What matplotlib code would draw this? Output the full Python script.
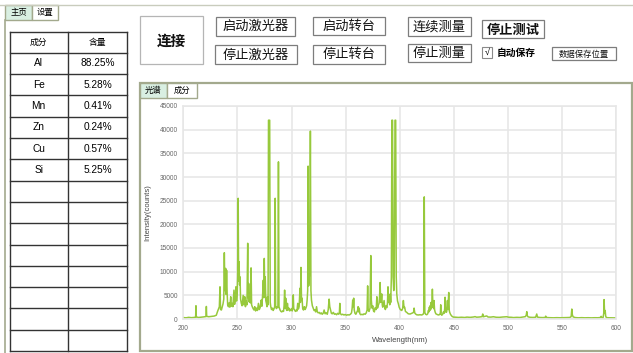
import matplotlib
matplotlib.use('Agg')
import matplotlib.pyplot as plt
from matplotlib.patches import Rectangle

CJK = ['Noto Sans CJK SC', 'DejaVu Sans']
LAT = ['Liberation Sans', 'DejaVu Sans']

# composition table
components = ['Al', 'Fe', 'Mn', 'Zn', 'Cu', 'Si']
contents = ['88.25%', '5.28%', '0.41%', '0.24%', '0.57%', '5.25%']
n_empty_rows = 8

x_ticks = [200, 250, 300, 350, 400, 450, 500, 550, 600]
y_ticks = [0, 5000, 10000, 15000, 20000, 25000, 30000, 35000, 40000, 45000]

# spectrum: (wavelength nm, counts)
seg_200_232 = [
    (200.0, 300), (202.5, 250), (205.0, 350), (207.5, 280), (210.0, 330),
    (211.4, 420), (211.7, 2800), (212.0, 450), (214.0, 320), (216.5, 380),
    (219.0, 450), (221.0, 520), (221.3, 2650), (221.6, 560), (223.5, 480),
    (226.0, 560), (228.5, 620), (230.5, 800), (231.5, 1500), (232.5, 2100),
]
seg_233_300 = [
    (233.3, 2600), (233.9, 6800), (234.4, 2000), (235.2, 1900), (236.0, 2600),
    (236.7, 3200), (237.4, 4200), (237.9, 14000), (238.4, 6000), (239.1, 10700),
    (239.5, 5200), (240.0, 10300), (240.5, 5400), (241.0, 3000), (241.7, 2600),
    (242.3, 3400), (243.0, 2500), (243.8, 4700), (244.4, 2700), (245.2, 3300),
    (245.8, 2600), (246.8, 6100), (247.4, 3100), (248.0, 4300), (248.6, 6800),
    (249.2, 3800), (249.8, 5200), (250.2, 9000), (250.7, 25500), (251.1, 8000),
    (251.5, 12100), (252.0, 7200), (252.4, 8900), (252.9, 4200), (253.6, 3300),
    (254.3, 2800), (255.3, 5000), (255.9, 3000), (256.8, 4700), (257.4, 2600),
    (258.0, 3800), (258.8, 3000), (259.5, 16000), (259.9, 4500), (260.4, 7500),
    (260.9, 3600), (261.5, 5400), (262.0, 3400), (262.6, 10800), (263.1, 3000),
    (263.7, 2600), (264.5, 2200), (265.3, 1900), (266.0, 2600), (266.8, 1700),
    (267.6, 2300), (268.5, 1800), (269.4, 3300), (270.2, 2000), (271.0, 2400),
    (272.0, 4000), (272.6, 2700), (273.3, 5200), (273.9, 8200), (274.4, 4500),
    (274.8, 12800), (275.2, 6000), (275.7, 8900), (276.2, 3900), (276.8, 3300),
    (277.3, 2600), (277.8, 4700), (278.3, 3000), (278.7, 42000), (279.3, 42000),
    (279.8, 42000), (280.3, 3500), (280.8, 2600), (281.5, 2000), (282.2, 2300),
    (283.0, 1800), (283.7, 2100), (284.4, 2600), (284.9, 25500), (285.3, 2800),
    (286.0, 2200), (286.7, 2600), (287.4, 2400), (287.9, 33200), (288.4, 2600),
    (289.4, 1900), (290.2, 1600), (291.0, 1500), (291.8, 1700), (292.6, 1600),
    (293.1, 2800), (293.6, 6100), (294.1, 2300), (294.6, 4400), (295.2, 2000),
    (295.7, 1800), (296.2, 3300), (296.8, 1900), (297.5, 2300), (298.3, 1700),
    (299.1, 1900), (300.0, 2200),
]
seg_300_390 = [
    (300.6, 1700), (301.2, 2700), (301.6, 5100), (302.0, 2200), (302.8, 1900),
    (303.6, 1600), (304.4, 1900), (305.0, 1700), (305.7, 3300), (306.3, 2100),
    (307.0, 2600), (307.8, 6500), (308.2, 3500), (308.7, 10900), (309.2, 4000),
    (309.7, 4400), (310.3, 2200), (311.0, 1900), (311.8, 2600), (312.5, 2000),
    (313.2, 2300), (313.9, 2800), (314.4, 4000), (314.9, 6000), (315.3, 32300),
    (315.8, 7000), (316.4, 9000), (316.9, 12000), (317.4, 39700), (317.9, 6000),
    (318.4, 4000), (319.2, 2800), (320.0, 2300), (320.8, 1800), (321.5, 1900),
    (322.3, 1500), (323.1, 2600), (323.8, 1500), (324.6, 1300), (325.5, 1400),
    (326.5, 1100), (327.4, 1300), (328.3, 1000), (329.2, 1200), (330.1, 1900),
    (331.0, 1100), (332.0, 1300), (333.0, 1000), (333.9, 2000), (334.7, 4200),
    (335.3, 2600), (336.0, 1900), (336.8, 1200), (337.6, 1100), (338.6, 1400),
    (339.6, 1000), (340.6, 1100), (341.6, 900), (342.6, 1200), (343.6, 1000),
    (344.2, 1400), (344.6, 3300), (345.0, 1200), (346.0, 900), (347.2, 1000),
    (348.4, 850), (349.6, 950), (350.8, 800), (352.0, 900), (353.2, 850),
    (354.4, 1000), (355.4, 1300), (356.0, 2300), (356.5, 4000), (357.0, 2600),
    (357.4, 4400), (357.9, 1900), (358.6, 1200), (359.4, 1000), (360.2, 1400),
    (361.0, 1800), (361.5, 2600), (362.0, 1500), (362.5, 2300), (363.1, 1100),
    (364.0, 900), (365.0, 1000), (366.0, 900), (367.0, 1100), (368.0, 1000),
    (369.0, 1300), (369.8, 1900), (370.3, 7000), (370.8, 1900), (371.6, 1600),
    (372.5, 2300), (373.2, 13400), (373.7, 4000), (374.3, 2300), (375.0, 2800),
    (375.7, 1700), (376.5, 1500), (377.3, 2400), (378.2, 2000), (378.8, 4700),
    (379.4, 2300), (380.1, 2900), (380.8, 3300), (381.3, 4500), (381.8, 7700),
    (382.3, 3500), (382.9, 4200), (383.3, 5300), (383.8, 3000), (384.2, 2500),
    (384.9, 3200), (385.5, 3900), (386.1, 2300), (386.7, 2000), (387.3, 2800),
    (388.0, 2400), (388.6, 3300), (389.1, 6800), (389.6, 3500), (390.2, 4600),
]
seg_390_450 = [
    (390.7, 3000), (391.2, 5300), (391.6, 3500), (392.2, 8800), (392.7, 42000),
    (393.3, 42000), (393.8, 9000), (394.4, 6000), (394.8, 8000), (395.6, 42000),
    (396.2, 42000), (396.7, 9000), (397.2, 5300), (397.9, 3800), (398.7, 3200),
    (399.4, 2500), (400.2, 2100), (401.0, 1900), (401.8, 1800), (402.6, 2200),
    (403.3, 3900), (403.9, 2400), (404.5, 2500), (405.2, 1600), (406.4, 1400),
    (407.8, 1100), (409.5, 1050), (411.0, 1200), (412.0, 1300), (412.7, 1400),
    (413.2, 2300), (413.8, 1300), (414.4, 1100), (415.5, 900), (417.0, 850),
    (418.7, 900), (420.3, 850), (421.5, 1000), (422.1, 1300), (422.6, 25800),
    (423.1, 1400), (423.8, 1000), (424.9, 900), (425.8, 1100), (426.4, 1800),
    (426.9, 1500), (427.3, 2500), (427.7, 1800), (428.0, 2800), (428.5, 2000),
    (428.9, 3500), (429.5, 2400), (430.1, 6300), (430.6, 2600), (431.0, 3200),
    (431.3, 2200), (431.6, 3900), (432.1, 2000), (432.6, 1500), (433.3, 1100),
    (434.1, 1000), (435.0, 900), (436.0, 850), (437.0, 1000), (437.5, 1300),
    (437.8, 3000), (438.1, 1100), (438.7, 800), (439.5, 950), (440.3, 1500),
    (441.0, 1200), (441.5, 2200), (441.8, 4600), (442.2, 2000), (442.7, 1400),
    (443.3, 1500), (444.0, 3900), (444.5, 2000), (445.2, 5600), (445.7, 1800),
    (446.1, 1400), (446.8, 1000), (447.4, 800), (448.3, 550), (449.5, 400),
]
seg_450_600 = [
    (451.5, 380), (454.0, 330), (457.0, 370), (460.0, 320), (462.0, 400),
    (465.0, 350), (468.0, 420), (469.5, 500), (471.0, 380), (473.5, 420),
    (476.0, 500), (476.6, 1050), (477.2, 480), (478.5, 550), (480.3, 650),
    (481.5, 420), (484.0, 400), (486.5, 480), (489.0, 370), (492.0, 350),
    (495.0, 420), (498.8, 480), (500.5, 380), (503.0, 360), (505.0, 300),
    (508.0, 350), (511.0, 320), (514.2, 450), (516.0, 500), (516.8, 800),
    (517.3, 1550), (517.8, 700), (518.5, 450), (520.5, 360), (523.0, 330),
    (525.5, 380), (526.5, 1050), (527.2, 400), (529.5, 320), (532.0, 300),
    (534.3, 330), (534.8, 600), (535.3, 320), (538.0, 280), (541.9, 250),
    (545.0, 280), (548.0, 260), (551.0, 270), (554.2, 300), (557.0, 320),
    (558.3, 500), (558.9, 2100), (559.4, 900), (560.1, 450), (562.0, 300),
    (565.0, 250), (568.0, 280), (571.0, 250), (574.0, 270), (577.0, 240),
    (580.0, 270), (583.0, 260), (585.5, 320), (586.0, 560), (586.5, 320),
    (587.8, 300), (588.4, 1200), (588.7, 4100), (589.2, 1200), (589.7, 1800),
    (590.2, 600), (590.8, 300), (593.0, 260), (596.0, 250), (598.5, 240),
    (600.0, 230),
]

spectrum = seg_200_232 + seg_233_300 + seg_300_390 + seg_390_450 + seg_450_600
wavelength = [p[0] for p in spectrum]
counts = [p[1] for p in spectrum]

OLIVE = '#a3a98d'
TAB_FILL = '#d9efe2'
LINE_GREEN = '#97c93c'

fig = plt.figure(figsize=(6.33, 3.53), dpi=100)
bg = fig.add_axes([0, 0, 1, 1])
bg.set_xlim(0, 633)
bg.set_ylim(353, 0)
bg.axis('off')


def box(x0, y0, x1, y1, ec, fc='none', lw=1.0):
    bg.add_patch(Rectangle((x0, y0), x1 - x0, y1 - y0, ec=ec, fc=fc, lw=lw))


# window top line + main page frame
bg.plot([0, 633], [4.5, 4.5], color='#c9ccbd', lw=1.0)
bg.plot([5, 5], [20, 353], color=OLIVE, lw=1.2)
box(5, 5, 32, 20, OLIVE, TAB_FILL)
box(32, 5, 58, 20, OLIVE, 'white')
bg.text(18.5, 13, '主页', ha='center', va='center', fontsize=6, family=CJK)
bg.text(45, 13, '设置', ha='center', va='center', fontsize=6, family=CJK)

# composition table
tx0, tx1, tmid = 9.5, 127, 68
ty0, row_h = 31.5, 21.3
n_rows = 1 + len(components) + n_empty_rows
for i in range(n_rows + 1):
    bg.plot([tx0, tx1], [ty0 + i * row_h] * 2, color='#333333', lw=1.0)
for xv in (tx0, tmid, tx1):
    bg.plot([xv, xv], [ty0, ty0 + n_rows * row_h], color='#333333', lw=1.0)
bg.text((tx0 + tmid) / 2, ty0 + row_h / 2, '成分', ha='center', va='center', fontsize=6.3, family=CJK)
bg.text((tmid + tx1) / 2, ty0 + row_h / 2, '含量', ha='center', va='center', fontsize=6.3, family=CJK)
for i, (el, val) in enumerate(zip(components, contents)):
    yc = ty0 + (i + 1.5) * row_h
    bg.text((tx0 + tmid) / 2, yc, el, ha='center', va='center', fontsize=7.3, family=LAT)
    bg.text((tmid + tx1) / 2, yc, val, ha='center', va='center', fontsize=7.3, family=LAT)

# buttons
buttons = [
    ('连接', 140, 16, 203, 64, 10.5, 'bold', '#b5b5b5'),
    ('启动激光器', 216, 17, 295, 35.5, 9.5, 'normal', '#7d7d7d'),
    ('停止激光器', 215, 45, 297, 64, 9.5, 'normal', '#7d7d7d'),
    ('启动转台', 313, 17, 385, 34.5, 9.5, 'normal', '#7d7d7d'),
    ('停止转台', 313, 45, 385, 63.5, 9.5, 'normal', '#7d7d7d'),
    ('连续测量', 408, 17, 471, 35.5, 9.5, 'normal', '#7d7d7d'),
    ('停止测量', 408, 44, 471, 62, 9.5, 'normal', '#7d7d7d'),
    ('停止测试', 482, 20, 544, 38, 9.5, 'bold', '#7d7d7d'),
    ('数据保存位置', 552, 47, 616, 60, 6, 'normal', '#7d7d7d'),
]
for label, x0, y0, x1, y1, fs, fw, ec in buttons:
    box(x0, y0, x1, y1, ec, 'white', 0.9)
    bg.text((x0 + x1) / 2, (y0 + y1) / 2 + 0.5, label, ha='center', va='center',
            fontsize=fs, fontweight=fw, family=CJK, color='#111111')

# auto-save checkbox
box(482, 47, 491.5, 57.5, '#8a8a8a', 'white', 0.8)
bg.text(486.8, 52.5, '√', ha='center', va='center', fontsize=6.5, family=LAT)
bg.text(497, 52.5, '自动保存', ha='left', va='center', fontsize=7, fontweight='bold', family=CJK)

# chart panel
box(139.5, 82.5, 632, 351, OLIVE, 'none', 1.6)
box(139.5, 82.5, 167, 98, OLIVE, TAB_FILL, 1.0)
box(167, 82.5, 197, 98, OLIVE, 'white', 1.0)
bg.text(153.3, 90.5, '光谱', ha='center', va='center', fontsize=6, family=CJK)
bg.text(182, 90.5, '成分', ha='center', va='center', fontsize=6, family=CJK)

# spectrum plot
ax = fig.add_axes([183.3 / 633, (353 - 319) / 353, 433 / 633, 213 / 353])
ax.plot(wavelength, counts, color=LINE_GREEN, lw=1.1)
ax.set_xlim(200, 600)
ax.set_ylim(0, 45000)
ax.set_xticks(x_ticks)
ax.set_yticks(y_ticks)
ax.grid(True, color='#e6e6e6', lw=1.1)
ax.set_axisbelow(True)
for s in ax.spines.values():
    s.set_color('#e6e6e6')
    s.set_linewidth(1.1)
ax.tick_params(length=0, labelsize=4.7, labelcolor='#666666', pad=4)
for lab in ax.get_xticklabels() + ax.get_yticklabels():
    lab.set_family(LAT)
ax.set_xlabel('Wavelength(nm)', fontsize=5.5, color='#444444', family=LAT, labelpad=4)
ax.set_ylabel('Intensity(counts)', fontsize=5.5, color='#444444', family=LAT, labelpad=6)

fig.savefig('out.png', dpi=100)
